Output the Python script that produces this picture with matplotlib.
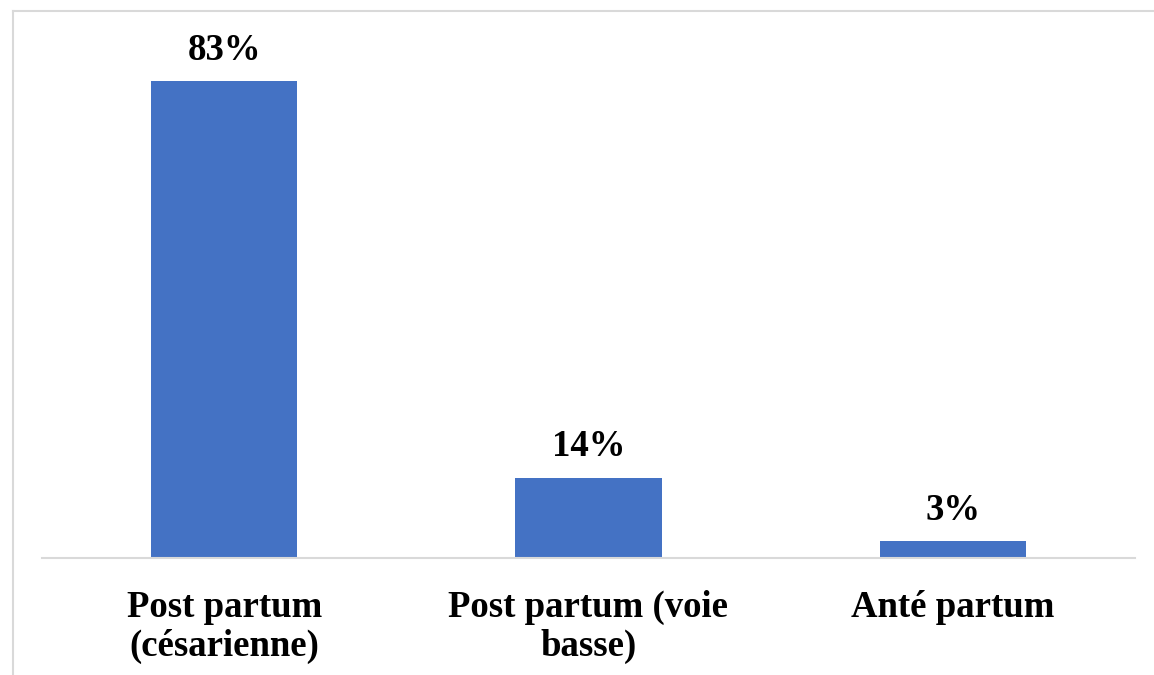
import matplotlib
matplotlib.use("Agg")
import matplotlib.pyplot as plt
from matplotlib.lines import Line2D

categories = ["Post partum\n(césarienne)", "Post partum (voie\nbasse)", "Anté partum"]
values = [83, 14, 3]
value_labels = ["83%", "14%", "3%"]

plt.rcParams['font.family'] = ['Liberation Serif', 'DejaVu Serif']

W, H = 1154, 675
fig = plt.figure(figsize=(W / 100, H / 100), dpi=100)
fig.patch.set_facecolor("white")

# axes: x from 42 to 1135 px, y from 40 to 558 px
ax_left, ax_right = 42, 1135
ax_top, ax_bottom = 40, 558
ax = fig.add_axes([ax_left / W, 1 - ax_bottom / H, (ax_right - ax_left) / W, (ax_bottom - ax_top) / H])

x = range(len(categories))
bars = ax.bar(x, values, width=0.402, color="#4472C4", zorder=2)
ax.set_xlim(-0.5, len(categories) - 0.5)
ax.set_ylim(0, (ax_bottom - ax_top) / 5.75)

for b, lab in zip(bars, value_labels):
    ax.annotate(lab, (b.get_x() + b.get_width() / 2, b.get_height()),
                xytext=(0, 9.5), textcoords="offset points",
                ha="center", va="bottom", fontsize=26.5, fontweight="bold")

ax.set_xticks(list(x))
ax.set_xticklabels(categories, fontsize=26.5, fontweight="bold", linespacing=1.15)
ax.tick_params(axis="x", length=0, pad=23)
ax.set_yticks([])
for s in ["top", "right", "left"]:
    ax.spines[s].set_visible(False)
ax.spines["bottom"].set_color("#d9d9d9")
ax.spines["bottom"].set_linewidth(1.5)

# outer chart border (left and top visible)
fig.add_artist(Line2D([12.5 / W, 12.5 / W], [0, 1 - 11 / H], transform=fig.transFigure,
                      color="#d9d9d9", lw=1.5))
fig.add_artist(Line2D([12.5 / W, 1], [1 - 11 / H, 1 - 11 / H], transform=fig.transFigure,
                      color="#d9d9d9", lw=1.5))

fig.savefig("out.png", dpi=100)
